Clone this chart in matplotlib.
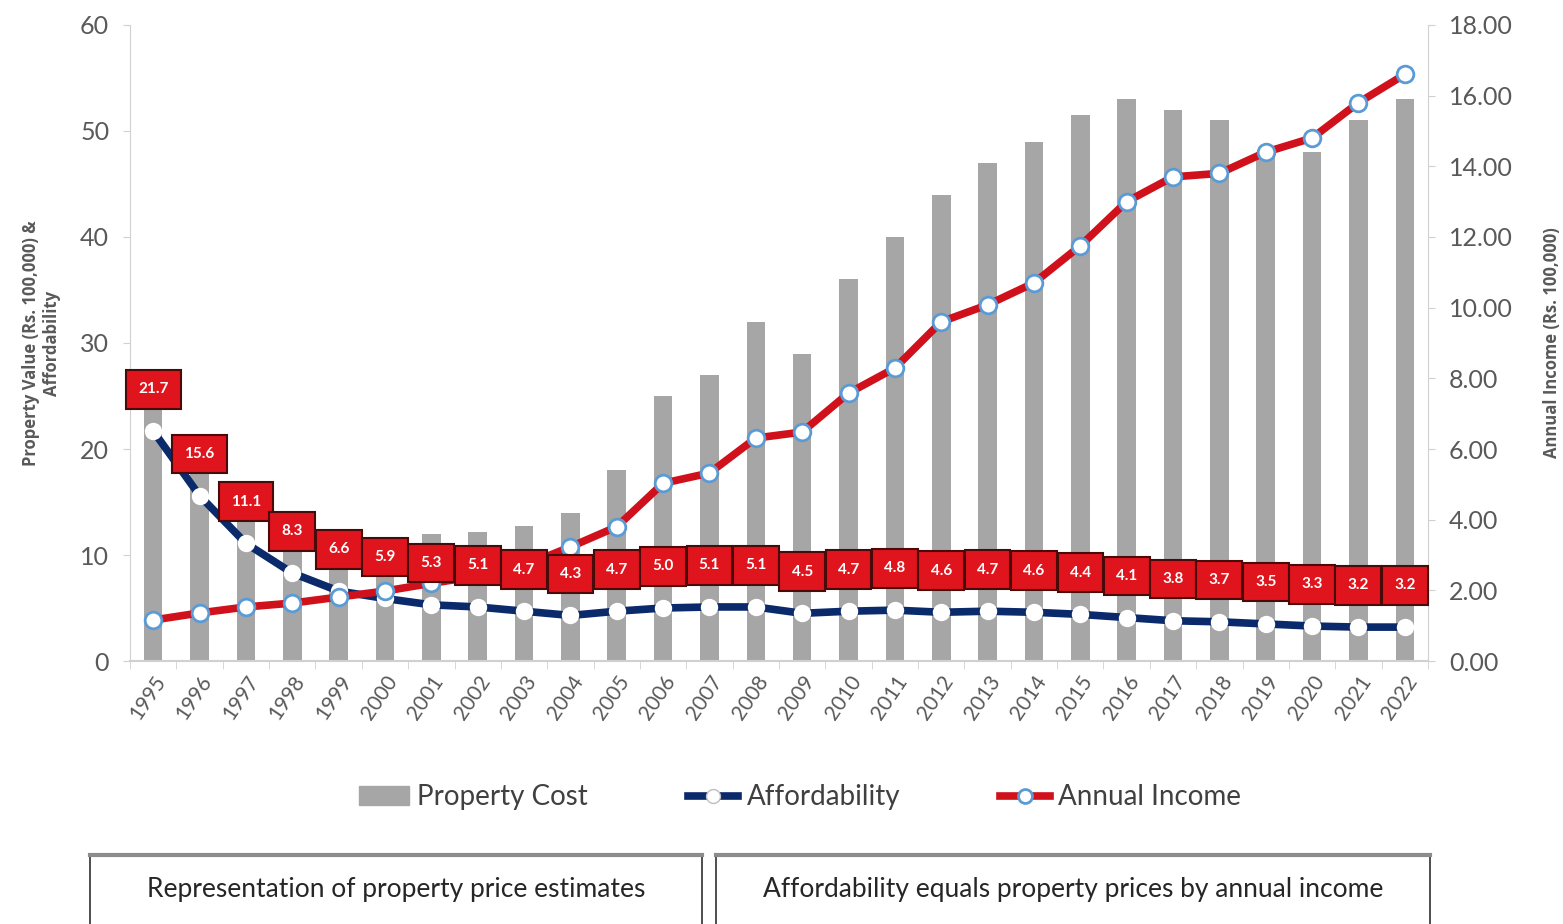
import matplotlib
matplotlib.use('Agg')
import matplotlib.pyplot as plt
from matplotlib.patches import Rectangle, Patch
from matplotlib.lines import Line2D

years = [str(y) for y in range(1995, 2023)]

# property cost in Rs. 100,000 (left axis)
property_cost = [25, 21, 17, 13.6, 12, 11.7, 12, 12.2, 12.7, 14, 18, 25, 27, 32,
                 29, 36, 40, 44, 47, 49, 51.5, 53, 52, 51, 48, 48, 51, 53]

# affordability = property price / annual income (left axis)
affordability = [21.7, 15.6, 11.1, 8.3, 6.6, 5.9, 5.3, 5.1, 4.7, 4.3, 4.7, 5.0, 5.1, 5.1,
                 4.5, 4.7, 4.8, 4.6, 4.7, 4.6, 4.4, 4.1, 3.8, 3.7, 3.5, 3.3, 3.2, 3.2]

# annual income in Rs. 100,000 (right axis)
annual_income = [1.16, 1.36, 1.53, 1.64, 1.81, 1.98, 2.2, 2.4, 2.7, 3.23, 3.8, 5.03, 5.32, 6.31,
                 6.48, 7.58, 8.29, 9.6, 10.08, 10.7, 11.75, 13.0, 13.7, 13.8, 14.4, 14.8, 15.8, 16.6]

font = 'Lato'
grey_txt = '#595959'
spine_col = '#d0d0d0'
bar_col = '#a6a6a6'
navy = '#0b2a6b'
red = '#d0111b'

fig = plt.figure(figsize=(15.63, 9.24), dpi=100)
ax = fig.add_axes([0.0832, 0.2846, 0.8304, 0.6884])
ax2 = ax.twinx()

x = list(range(len(years)))

# bars and affordability on the left scale, income on top of them
ax.bar(x, property_cost, width=0.4, color=bar_col, zorder=1)
ax.plot(x, affordability, color=navy, lw=5.5, marker='o', ms=11,
        mfc='white', mec='white', mew=1.5, zorder=3)

ax2.plot(x, annual_income, color=red, lw=5.5, marker='o', ms=12,
         mfc='white', mec='#5b9bd5', mew=2, zorder=3)

# value boxes above the affordability points
for xi, v in zip(x, affordability):
    ax2.annotate(f'{v:.1f}', (xi, v), xycoords=ax.transData, xytext=(0, 30),
                 textcoords='offset points', ha='center', va='center', color='white',
                 fontsize=11, fontweight='bold', family=font, zorder=6,
                 bbox=dict(boxstyle='square,pad=0.8', fc='#e0141c', ec='#4a0a0a', lw=1.5))

ax.set_xlim(-0.5, len(years) - 0.5)
ax.set_ylim(0, 60)
ax2.set_ylim(0, 18)

ax.set_yticks(range(0, 61, 10))
ax2.set_yticks([i * 2 for i in range(10)])
ax2.set_yticklabels([f'{i * 2:.2f}' for i in range(10)])

ax.set_xticks(x)
ax.set_xticklabels(years, rotation=56, ha='right', rotation_mode='anchor')
ax.set_xticks([i - 0.5 for i in range(len(years) + 1)], minor=True)
ax.tick_params(axis='x', which='major', length=0, pad=8)
ax.tick_params(axis='x', which='minor', length=6, color=spine_col)

for a in (ax, ax2):
    for s in a.spines.values():
        s.set_visible(False)
    a.tick_params(axis='y', length=5, color=spine_col, labelcolor=grey_txt, labelsize=18, pad=10)
    for lab in a.get_yticklabels():
        lab.set_family(font)

ax.spines['left'].set_visible(True)
ax.spines['left'].set_color(spine_col)
ax.spines['bottom'].set_visible(True)
ax.spines['bottom'].set_color(spine_col)
ax.spines['bottom'].set_linewidth(1.5)
ax2.spines['right'].set_visible(True)
ax2.spines['right'].set_color(spine_col)

for lab in ax.get_xticklabels():
    lab.set_family(font)
    lab.set_fontsize(15)
    lab.set_color(grey_txt)

ax.set_ylabel('Property Value (Rs. 100,000) &\nAffordability', fontsize=12,
              fontweight='bold', color=grey_txt, family='Open Sans', labelpad=14)
ax2.set_ylabel('Annual Income (Rs. 100,000)', fontsize=12, fontweight='bold',
               color=grey_txt, family='Open Sans', labelpad=22)

# legend
handles = [
    Patch(color=bar_col),
    Line2D([], [], color=navy, lw=5.5, marker='o', ms=10, mfc='white', mec='#bfbfbf', mew=1),
    Line2D([], [], color=red, lw=5.5, marker='o', ms=10, mfc='white', mec='#5b9bd5', mew=2),
]
fig.legend(handles, ['Property Cost', 'Affordability', 'Annual Income'],
           loc='center', bbox_to_anchor=(0.512, 0.137), ncol=3, frameon=False,
           prop={'family': font, 'size': 20}, labelcolor='#404040',
           handlelength=1.8, handletextpad=0.3, columnspacing=3.6)

# captions below the chart
W, H = 1563, 924
box_top = (924 - 855) / H
for (x0, x1, text) in [(90, 702, 'Representation of property price estimates'),
                       (716, 1430, 'Affordability equals property prices by annual income')]:
    fig.patches.append(Rectangle((x0 / W, -0.01), (x1 - x0) / W, box_top + 0.01,
                                 transform=fig.transFigure, fc='white', ec='#303030', lw=1.2))
    fig.add_artist(Line2D([x0 / W, x1 / W], [box_top] * 2, transform=fig.transFigure,
                          color='#8c8c8c', lw=3))
    fig.text((x0 + x1) / 2 / W, 1 - 890 / H, text, ha='center', va='center',
             family=font, fontsize=19, color='#262626')

fig.savefig('out.png', dpi=100)
